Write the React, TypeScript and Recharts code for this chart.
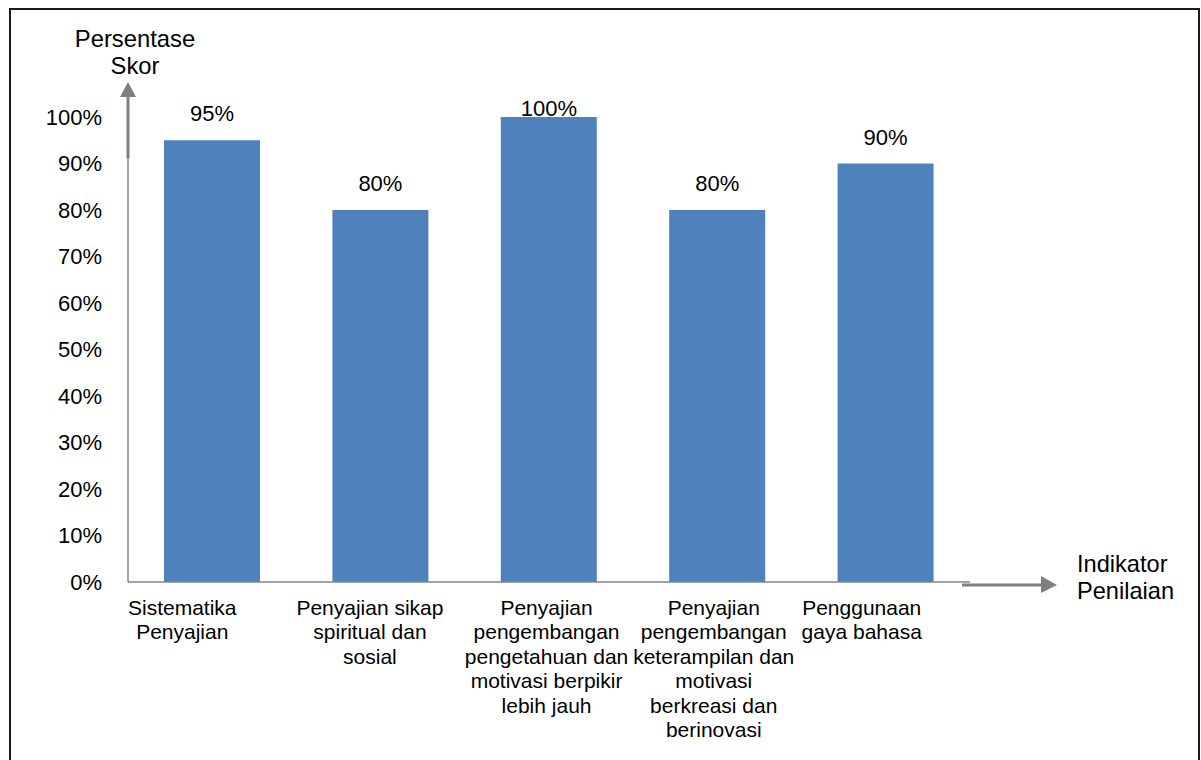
import { BarChart, Bar, XAxis, YAxis, LabelList } from "recharts";

const categories = [
  "Sistematika Penyajian",
  "Penyajian sikap spiritual dan sosial",
  "Penyajian pengembangan pengetahuan dan motivasi berpikir lebih jauh",
  "Penyajian pengembangan keterampilan dan motivasi berkreasi dan berinovasi",
  "Penggunaan gaya bahasa",
];
const categoryLines = [
  ["Sistematika", "Penyajian"],
  ["Penyajian sikap", "spiritual dan", "sosial"],
  ["Penyajian", "pengembangan", "pengetahuan dan", "motivasi berpikir", "lebih jauh"],
  ["Penyajian", "pengembangan", "keterampilan dan", "motivasi", "berkreasi dan", "berinovasi"],
  ["Penggunaan", "gaya bahasa"],
];
const scores = [95, 80, 100, 80, 90];
const yTicks = [0, 10, 20, 30, 40, 50, 60, 70, 80, 90, 100];
const yTitle = ["Persentase", "Skor"];
const xTitle = ["Indikator", "Penilaian"];

const data = categories.map((name, i) => ({ name, lines: categoryLines[i], score: scores[i] }));

const W = 1201;
const H = 760;
const PLOT_LEFT = 128;
const PLOT_RIGHT = 970;
const PLOT_TOP = 117;
const PLOT_BOTTOM = 582;
const BAND = (PLOT_RIGHT - PLOT_LEFT) / categories.length;
const FONT = "'Liberation Sans', Arial, sans-serif";
const GREY = "#7f7f7f";
const BLUE = "#4f81bd";

let ctx: CanvasRenderingContext2D | null = null;
function textWidth(s: string, size: number) {
  if (!ctx) ctx = document.createElement("canvas").getContext("2d");
  if (!ctx) return s.length * size * 0.5;
  ctx.font = `${size}px ${FONT}`;
  return ctx.measureText(s).width;
}

function CategoryTick(props: any) {
  const { x, index } = props;
  const lines = categoryLines[index] || [];
  const size = 21;
  const maxW = Math.max(...lines.map((l) => textWidth(l, size)));
  const cx = x - BAND / 2 + maxW / 2;
  return (
    <g>
      {lines.map((l, i) => (
        <text
          key={i}
          x={cx}
          y={PLOT_BOTTOM + 33 + i * 24.4}
          textAnchor="middle"
          fontSize={size}
          fontFamily={FONT}
          fill="#000"
        >
          {l}
        </text>
      ))}
    </g>
  );
}

function ValueLabel(props: any) {
  const { x, y, width, value } = props;
  const ly = Math.max(y - 19, PLOT_TOP - 1);
  return (
    <text x={x + width / 2} y={ly} textAnchor="middle" fontSize={22} fontFamily={FONT} fill="#000">
      {value}%
    </text>
  );
}

export default function App() {
  return (
    <div style={{ position: "absolute", left: 0, top: 0, width: W, height: H, overflow: "hidden", background: "#fff" }}>
      <div
        style={{
          position: "absolute",
          left: 9,
          top: 8,
          width: 1191,
          height: 800,
          border: "2px solid #1a1a1a",
          boxSizing: "border-box",
        }}
      />
      <div style={{ position: "absolute", left: 0, top: 0 }}>
        <BarChart
          width={W}
          height={H}
          data={data}
          margin={{ top: PLOT_TOP, right: W - PLOT_RIGHT, bottom: 28, left: 28 }}
          barSize={96}
        >
          <XAxis
            dataKey="name"
            height={H - PLOT_BOTTOM - 28}
            tickLine={false}
            axisLine={{ stroke: "#868686", strokeWidth: 1.5 }}
            tick={<CategoryTick />}
            interval={0}
          />
          <YAxis
            width={100}
            domain={[0, 100]}
            ticks={yTicks}
            tickFormatter={(v) => `${v}%`}
            tickLine={false}
            axisLine={{ stroke: "#868686", strokeWidth: 1.5 }}
            tickMargin={20}
            tick={{ fill: "#000", fontSize: 22, fontFamily: FONT }}
          />
          <Bar dataKey="score" fill={BLUE} isAnimationActive={false}>
            <LabelList dataKey="score" content={<ValueLabel />} />
          </Bar>
        </BarChart>
      </div>
      <svg width={W} height={H} style={{ position: "absolute", left: 0, top: 0, pointerEvents: "none" }}>
        <line x1={PLOT_LEFT} y1={158} x2={PLOT_LEFT} y2={96} stroke={GREY} strokeWidth={3} />
        <polygon points={`${PLOT_LEFT - 8},97 ${PLOT_LEFT + 8},97 ${PLOT_LEFT},82`} fill={GREY} />
        <line x1={962} y1={585} x2={1042} y2={585} stroke={GREY} strokeWidth={3} />
        <polygon points="1041,576 1041,593 1057,585" fill={GREY} />
        {yTitle.map((t, i) => (
          <text key={t} x={135} y={47 + i * 27} textAnchor="middle" fontSize={23.8} fontFamily={FONT} fill="#000">
            {t}
          </text>
        ))}
        {xTitle.map((t, i) => (
          <text key={t} x={1077} y={572 + i * 27} fontSize={23.6} fontFamily={FONT} fill="#000">
            {t}
          </text>
        ))}
      </svg>
    </div>
  );
}
